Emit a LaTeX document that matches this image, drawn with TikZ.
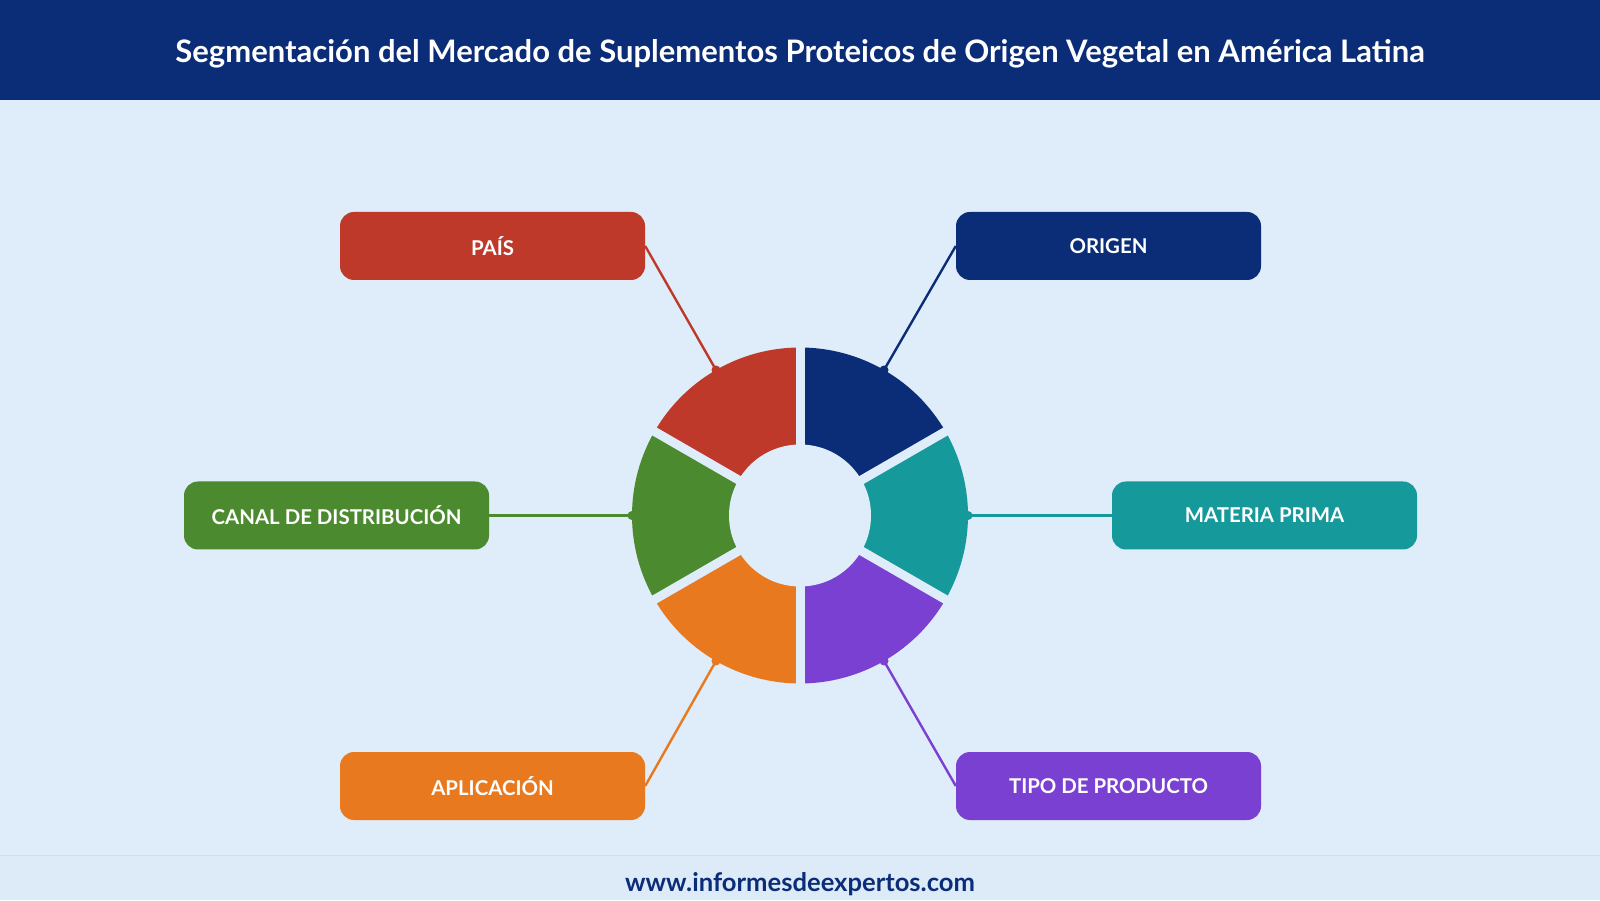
\documentclass[tikz,border=0pt]{standalone}
\usepackage{fontspec}
\setmainfont{Lato}
\usetikzlibrary{calc}
\definecolor{hdr}{HTML}{0B2D78}
\definecolor{bgc}{HTML}{DFECF9}
\definecolor{ftc}{HTML}{DDEAF7}
\definecolor{cred}{HTML}{BF392B}
\definecolor{cblue}{HTML}{0B2D78}
\definecolor{cteal}{HTML}{16999B}
\definecolor{cpurp}{HTML}{7A40D1}
\definecolor{corange}{HTML}{E8791E}
\definecolor{cgreen}{HTML}{4B8A2E}
\tikzset{
  segbox/.style={rounded corners=14pt, minimum width=305pt, minimum height=68pt, inner sep=0pt,
    text=white, font=\bfseries\fontsize{20.4}{24}\selectfont},
  conn/.style={line width=2.4pt},
}
\begin{document}
\begin{tikzpicture}[x=1pt,y=1pt]
\useasboundingbox (0,0) rectangle (1600,900);
\fill[bgc] (0,0) rectangle (1600,900);
\fill[ftc] (0,0) rectangle (1600,45);
\draw[color=ftc!92!black!60!bgc, line width=1pt] (0,45) -- (1600,45);
\fill[hdr] (0,800) rectangle (1600,900);
\node[text=white, font=\bfseries\fontsize{31}{36}\selectfont] (title) at (800,846)
  {Segmentación del Mercado de Suplementos Proteicos de Origen Vegetal en América Latina};
\node[text=hdr, font=\bfseries\fontsize{25.6}{30}\selectfont] (footer) at (800,16) {www.informesdeexpertos.com};

\coordinate (c) at (800,384.5);
% donut sectors
\foreach \a/\b/\col in {30/90/cblue, -30/30/cteal, -90/-30/cpurp, -150/-90/corange, 150/210/cgreen, 90/150/cred}{
  \fill[\col] (c) -- ++(\a:168) arc[start angle=\a, end angle=\b, radius=168] -- cycle;
}
\foreach \a in {30,90,150,210,270,330}{
  \draw[bgc, line width=9pt] (c) -- ++(\a:180);
}
\fill[bgc] (c) circle (71);

% anchor points on donut edge
\coordinate (pO) at ($(c)+(60:168)$);
\coordinate (pM) at ($(c)+(0:168)$);
\coordinate (pT) at ($(c)+(-60:168)$);
\coordinate (pA) at ($(c)+(-120:168)$);
\coordinate (pC) at ($(c)+(180:168)$);
\coordinate (pP) at ($(c)+(120:168)$);

% boxes
\node[segbox, fill=cred] (pais) at (492.5,654) {PAÍS};
\node[segbox, fill=cblue] (origen) at (1108.5,654) {ORIGEN};
\node[segbox, fill=cgreen] (canal) at (336.5,384.5) {CANAL DE DISTRIBUCIÓN};
\node[segbox, fill=cteal] (materia) at (1264.5,384.5) {MATERIA PRIMA};
\node[segbox, fill=corange] (aplic) at (492.5,114) {APLICACIÓN};
\node[segbox, fill=cpurp] (tipo) at (1108.5,114) {TIPO DE PRODUCTO};

% connectors
\draw[conn, cred] (pais.east) -- (pP);
\draw[conn, cblue] (origen.west) -- (pO);
\draw[conn, cgreen] (canal.east) -- (pC);
\draw[conn, cteal] (materia.west) -- (pM);
\draw[conn, corange] (aplic.east) -- (pA);
\draw[conn, cpurp] (tipo.west) -- (pT);
\foreach \p/\col in {pO/cblue, pM/cteal, pT/cpurp, pA/corange, pC/cgreen, pP/cred}{
  \fill[\col] (\p) circle (4.5);
}
\end{tikzpicture}
\end{document}
